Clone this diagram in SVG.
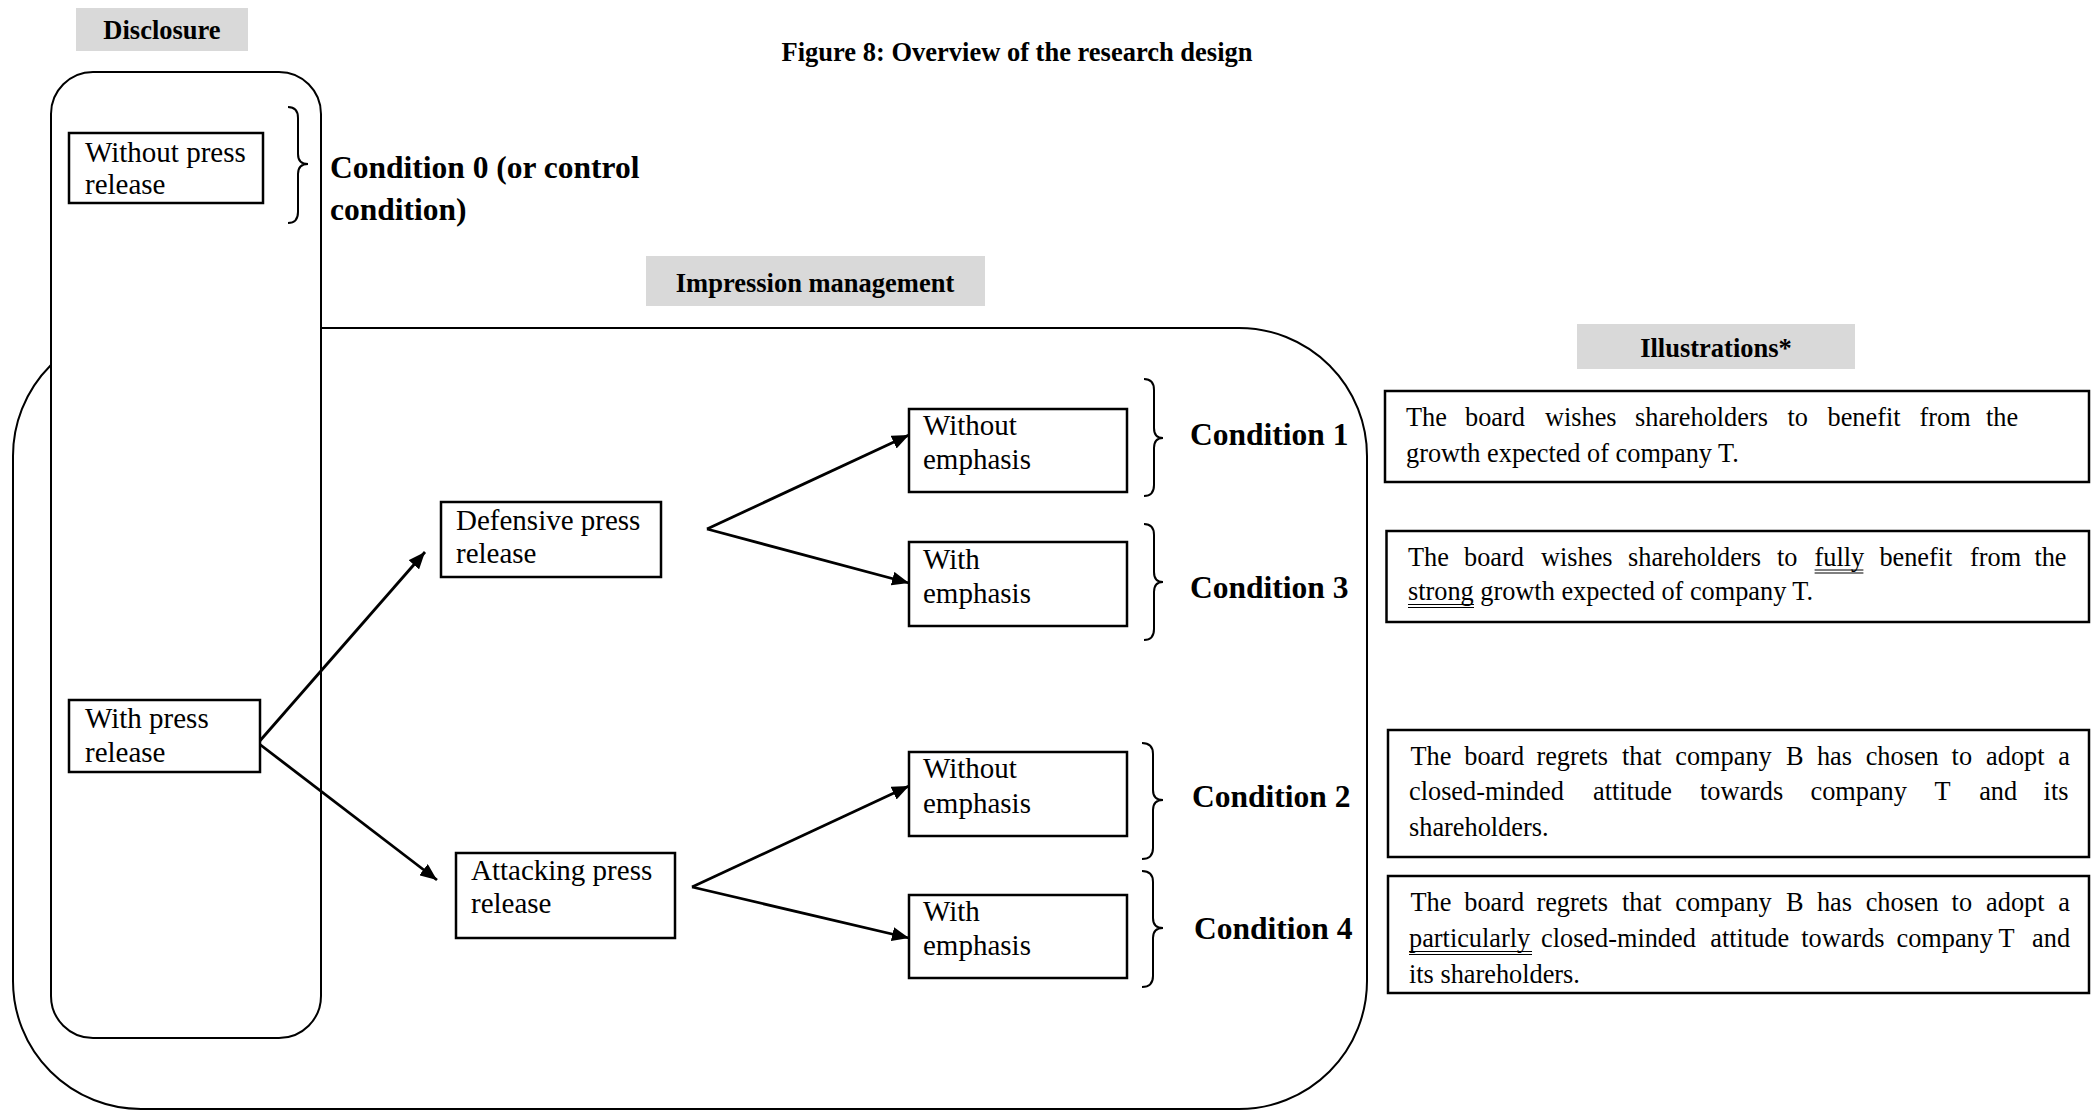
<svg xmlns="http://www.w3.org/2000/svg" width="2091" height="1112" viewBox="0 0 2091 1112">
<defs>
<style>
text{font-family:"Liberation Serif","Times New Roman",serif;fill:#000}
.lbl{font-size:26.5px;font-weight:bold}
.cond{font-size:31.5px;font-weight:bold}
.bx{font-size:29px}
.il{font-size:26.3px}
.box{fill:#fff;stroke:#000;stroke-width:2.5}
.tag{fill:#d9d9d9}
.cont{fill:#fff;stroke:#000;stroke-width:2}
.brace{fill:none;stroke:#000;stroke-width:2}
.arr{stroke:#000;stroke-width:2.8;fill:none;marker-end:url(#ah)}
.ul{stroke:#000;stroke-width:1.2}
</style>
<marker id="ah" markerUnits="userSpaceOnUse" markerWidth="18" markerHeight="14" refX="17" refY="7" orient="auto">
<path d="M0,0 L17,7 L0,14 z" fill="#000"/>
</marker>
</defs>
<rect width="2091" height="1112" fill="#fff"/>

<text class="lbl" x="1017" y="61" text-anchor="middle">Figure 8: Overview of the research design</text>

<g id="impression-container">
<rect class="cont" x="13" y="328" width="1354" height="781" rx="128" ry="128"/>
</g>
<g id="disclosure-container">
<rect class="cont" x="51" y="72" width="270" height="966" rx="42" ry="42"/>
</g>

<g id="tag-disclosure">
<rect class="tag" x="76" y="8" width="172" height="43"/>
<text class="lbl" x="162" y="39" text-anchor="middle">Disclosure</text>
</g>
<g id="tag-impression">
<rect class="tag" x="646" y="256" width="339" height="50"/>
<text class="lbl" x="815" y="292" text-anchor="middle">Impression management</text>
</g>
<g id="tag-illustrations">
<rect class="tag" x="1577" y="324" width="278" height="45"/>
<text class="lbl" x="1716" y="357" text-anchor="middle">Illustrations*</text>
</g>

<g id="connectors">
<line class="arr" x1="258" y1="743" x2="425" y2="552"/>
<line class="arr" x1="258" y1="743" x2="437" y2="880"/>
<line class="arr" x1="707" y1="529" x2="909" y2="435"/>
<line class="arr" x1="707" y1="529" x2="909" y2="583"/>
<line class="arr" x1="692" y1="887" x2="909" y2="786"/>
<line class="arr" x1="692" y1="887" x2="909" y2="938"/>
</g>

<g id="node-without-press">
<rect class="box" x="69" y="133" width="194" height="70"/>
<text class="bx" x="85" y="162">Without press</text>
<text class="bx" x="85" y="194">release</text>
</g>
<g id="node-with-press">
<rect class="box" x="69" y="700" width="191" height="72"/>
<text class="bx" x="85" y="728">With press</text>
<text class="bx" x="85" y="762">release</text>
</g>
<g id="node-defensive">
<rect class="box" x="441" y="502" width="220" height="75"/>
<text class="bx" x="456" y="530">Defensive press</text>
<text class="bx" x="456" y="563">release</text>
</g>
<g id="node-attacking">
<rect class="box" x="456" y="853" width="219" height="85"/>
<text class="bx" x="471" y="880">Attacking press</text>
<text class="bx" x="471" y="913">release</text>
</g>
<g id="node-def-without">
<rect class="box" x="909" y="409" width="218" height="83"/>
<text class="bx" x="923" y="435">Without</text>
<text class="bx" x="923" y="469">emphasis</text>
</g>
<g id="node-def-with">
<rect class="box" x="909" y="542" width="218" height="84"/>
<text class="bx" x="923" y="569">With</text>
<text class="bx" x="923" y="603">emphasis</text>
</g>
<g id="node-att-without">
<rect class="box" x="909" y="752" width="218" height="84"/>
<text class="bx" x="923" y="778">Without</text>
<text class="bx" x="923" y="813">emphasis</text>
</g>
<g id="node-att-with">
<rect class="box" x="909" y="895" width="218" height="83"/>
<text class="bx" x="923" y="921">With</text>
<text class="bx" x="923" y="955">emphasis</text>
</g>

<g id="cond-0">
<path class="brace" d="M288,107 Q298,107 298,118 L298,154 Q298,164 308,164 Q298,164 298,174 L298,212 Q298,223 288,223"/>
<text class="cond" x="330" y="178">Condition 0 (or control</text>
<text class="cond" x="330" y="220">condition)</text>
</g>
<g id="cond-1">
<path class="brace" d="M1144,379 Q1154,379 1154,390 L1154,428 Q1154,438 1163,438 Q1154,438 1154,448 L1154,485 Q1154,496 1144,496"/>
<text class="cond" x="1190" y="445">Condition 1</text>
</g>
<g id="cond-3">
<path class="brace" d="M1144,524 Q1154,524 1154,535 L1154,572 Q1154,582 1163,582 Q1154,582 1154,592 L1154,629 Q1154,640 1144,640"/>
<text class="cond" x="1190" y="598">Condition 3</text>
</g>
<g id="cond-2">
<path class="brace" d="M1142,743 Q1153,743 1153,754 L1153,790 Q1153,800 1163,800 Q1153,800 1153,810 L1153,848 Q1153,859 1142,859"/>
<text class="cond" x="1192" y="807">Condition 2</text>
</g>
<g id="cond-4">
<path class="brace" d="M1142,871 Q1153,871 1153,882 L1153,918 Q1153,928 1163,928 Q1153,928 1153,938 L1153,976 Q1153,987 1142,987"/>
<text class="cond" x="1194" y="939">Condition 4</text>
</g>

<g id="illus-1">
<rect class="box" x="1385" y="391" width="704" height="91"/>
<text class="il" y="426"><tspan x="1406">The</tspan><tspan x="1465">board</tspan><tspan x="1545">wishes</tspan><tspan x="1635">shareholders</tspan><tspan x="1787.5">to</tspan><tspan x="1827.5">benefit</tspan><tspan x="1919.5">from</tspan><tspan x="1986">the</tspan></text>
<text class="il" x="1406" y="462">growth expected of company T.</text>
</g>
<g id="illus-3">
<rect class="box" x="1386.5" y="531" width="702.5" height="91"/>
<text class="il" y="566"><tspan x="1408">The</tspan><tspan x="1464">board</tspan><tspan x="1541">wishes</tspan><tspan x="1628">shareholders</tspan><tspan x="1777">to</tspan><tspan x="1814.6">fully</tspan><tspan x="1879.4">benefit</tspan><tspan x="1970">from</tspan><tspan x="2034.4">the</tspan></text>
<text class="il" x="1408" y="600">strong growth expected of company T.</text>
<line class="ul" x1="1814.6" y1="570" x2="1863.4" y2="570"/>
<line class="ul" x1="1814.6" y1="573" x2="1863.4" y2="573"/>
<line class="ul" x1="1408" y1="604.5" x2="1474" y2="604.5"/>
<line class="ul" x1="1408" y1="607.5" x2="1474" y2="607.5"/>
</g>
<g id="illus-2">
<rect class="box" x="1388" y="730" width="701" height="127"/>
<text class="il" y="765"><tspan x="1410.5">The</tspan><tspan x="1464.3">board</tspan><tspan x="1536.4">regrets</tspan><tspan x="1622">that</tspan><tspan x="1675.3">company</tspan><tspan x="1786.1">B</tspan><tspan x="1816.9">has</tspan><tspan x="1865.7">chosen</tspan><tspan x="1951.6">to</tspan><tspan x="1986.1">adopt</tspan><tspan x="2058.3">a</tspan></text>
<text class="il" y="800"><tspan x="1409">closed-minded</tspan><tspan x="1593">attitude</tspan><tspan x="1700">towards</tspan><tspan x="1810.5">company</tspan><tspan x="1934.6">T</tspan><tspan x="1979.2">and</tspan><tspan x="2043.6">its</tspan></text>
<text class="il" x="1409" y="836">shareholders.</text>
</g>
<g id="illus-4">
<rect class="box" x="1388" y="876" width="701" height="117"/>
<text class="il" y="911"><tspan x="1410.5">The</tspan><tspan x="1464.3">board</tspan><tspan x="1536.4">regrets</tspan><tspan x="1622">that</tspan><tspan x="1675.3">company</tspan><tspan x="1786.1">B</tspan><tspan x="1816.9">has</tspan><tspan x="1865.7">chosen</tspan><tspan x="1951.6">to</tspan><tspan x="1986.1">adopt</tspan><tspan x="2058.3">a</tspan></text>
<text class="il" y="947"><tspan x="1409">particularly</tspan><tspan x="1541">closed-minded</tspan><tspan x="1710.3">attitude</tspan><tspan x="1801.3">towards</tspan><tspan x="1896.5">company</tspan><tspan x="1998.5">T</tspan><tspan x="2032.1">and</tspan></text>
<text class="il" x="1409" y="983">its shareholders.</text>
<line class="ul" x1="1409" y1="951.5" x2="1532" y2="951.5"/>
<line class="ul" x1="1409" y1="954.5" x2="1532" y2="954.5"/>
</g>
</svg>
